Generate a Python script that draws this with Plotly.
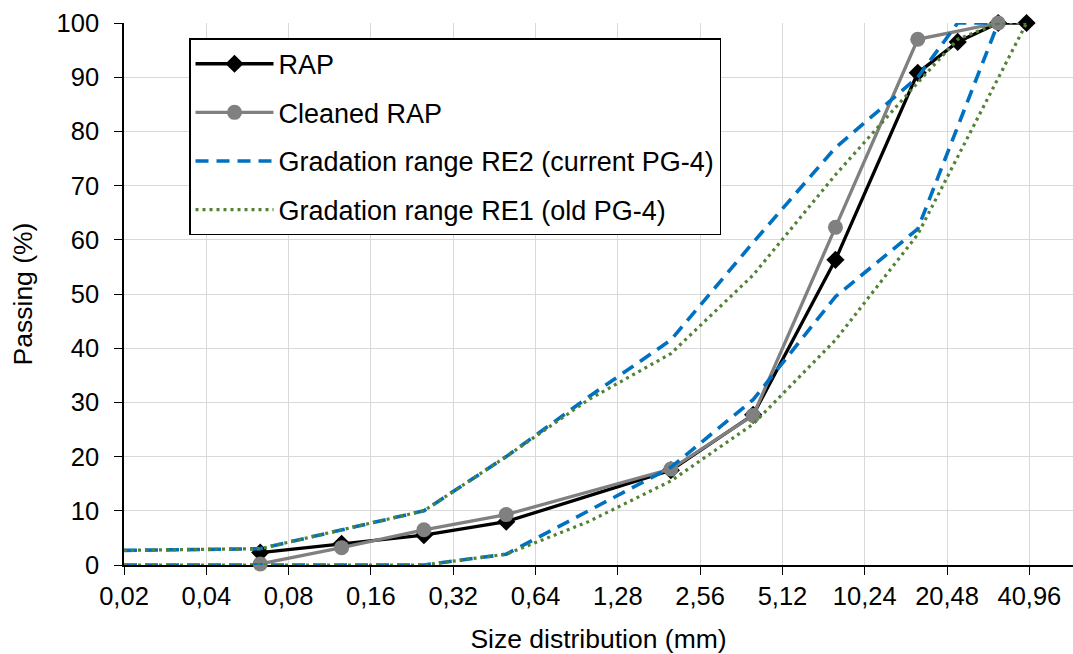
import plotly.graph_objects as go
import math

# ---------------- data ----------------
rap_size = [0.063, 0.125, 0.25, 0.5, 2, 4, 8, 16, 22.4, 31.5, 40]
rap_pass = [2.3, 3.9, 5.5, 8.0, 17.5, 27.7, 56.3, 90.8, 96.5, 100, 100]

clean_size = [0.063, 0.125, 0.25, 0.5, 2, 4, 8, 16, 31.5]
clean_pass = [0.2, 3.2, 6.5, 9.3, 17.7, 27.6, 62.3, 97.0, 100]

re2_upper_size = [0.02, 0.063, 0.25, 0.5, 1, 2, 4, 8, 16, 22.4, 31.5]
re2_upper_pass = [2.7, 3.0, 10, 20, 31, 41.5, 59.5, 77, 90, 100, 100]
re2_lower_size = [0.02, 0.25, 0.5, 1, 2, 4, 8, 16, 31.5]
re2_lower_pass = [0, 0, 2, 10, 18, 30.5, 49.5, 62, 100]

re1_upper_size = [0.02, 0.063, 0.25, 0.5, 1, 2, 4, 8, 16, 22.4, 31.5, 40]
re1_upper_pass = [2.7, 3.0, 10, 20, 30.5, 39, 53.5, 72, 89, 97, 100, 100]
re1_lower_size = [0.02, 0.25, 0.5, 1, 2, 4, 8, 16, 40]
re1_lower_pass = [0, 0, 2, 8, 15.5, 26, 41.5, 61, 100]

tick_vals = [0.02, 0.04, 0.08, 0.16, 0.32, 0.64, 1.28, 2.56, 5.12, 10.24, 20.48, 40.96]
tick_text = ["0,02", "0,04", "0,08", "0,16", "0,32", "0,64", "1,28", "2,56",
             "5,12", "10,24", "20,48", "40,96"]
y_ticks = [0, 10, 20, 30, 40, 50, 60, 70, 80, 90, 100]

names = ["RAP", "Cleaned RAP", "Gradation range RE2 (current PG-4)",
         "Gradation range RE1 (old PG-4)"]

FONT = "Liberation Sans, Arial, sans-serif"

fig = go.Figure()

fig.add_trace(go.Scatter(
    x=rap_size, y=rap_pass, name=names[0], legendgroup="a",
    mode="lines+markers", cliponaxis=False,
    line=dict(color="#000000", width=3.3),
    marker=dict(symbol="diamond", size=14, color="#000000")))

fig.add_trace(go.Scatter(
    x=clean_size, y=clean_pass, name=names[1], legendgroup="b",
    mode="lines+markers", cliponaxis=False,
    line=dict(color="#808080", width=3.3),
    marker=dict(symbol="circle", size=15, color="#808080")))

fig.add_trace(go.Scatter(
    x=re2_upper_size + [None] + re2_lower_size,
    y=re2_upper_pass + [None] + re2_lower_pass,
    name=names[2], legendgroup="c", mode="lines", cliponaxis=False,
    connectgaps=False,
    line=dict(color="#0070C0", width=3.6, dash="13px,8px")))

fig.add_trace(go.Scatter(
    x=re1_upper_size + [None] + re1_lower_size,
    y=re1_upper_pass + [None] + re1_lower_pass,
    name=names[3], legendgroup="d", mode="lines", cliponaxis=False,
    connectgaps=False,
    line=dict(color="#548235", width=3.2, dash="3px,4px")))

x_left = math.log10(0.02)
x_right = x_left + 11.53 * math.log10(2)

fig.update_layout(
    width=1073, height=654,
    margin=dict(l=124, r=0, t=23, b=89),
    paper_bgcolor="white", plot_bgcolor="white",
    font=dict(family=FONT, size=25, color="#000000"),
    showlegend=True,
    legend=dict(
        x=0.0685, y=0.972, xanchor="left", yanchor="top",
        bgcolor="white", bordercolor="#000000", borderwidth=1.5,
        font=dict(family=FONT, size=27, color="#000000"),
        traceorder="grouped", tracegroupgap=10.5, itemwidth=78),
    xaxis=dict(
        type="log", range=[x_left, x_right],
        tickmode="array", tickvals=tick_vals, ticktext=tick_text,
        showgrid=True, gridcolor="#d9d9d9", gridwidth=1,
        showline=True, linecolor="#000000", linewidth=1.5,
        ticks="outside", ticklen=8, tickcolor="#000000", tickwidth=1.2,
        tickfont=dict(size=25.5), zeroline=False, layer="below traces",
        title=dict(text="Size distribution (mm)", font=dict(size=26.5), standoff=20)),
    yaxis=dict(
        range=[0, 100], tickmode="array", tickvals=y_ticks,
        showgrid=True, gridcolor="#d9d9d9", gridwidth=1,
        showline=True, linecolor="#000000", linewidth=1.5,
        ticks="outside", ticklen=8, tickcolor="#000000", tickwidth=1.2,
        ticklabelstandoff=10,
        tickfont=dict(size=25.5), zeroline=False, layer="below traces",
        title=dict(text="Passing (%)", font=dict(size=26.5), standoff=16)),
)

fig.write_html("out.html")
